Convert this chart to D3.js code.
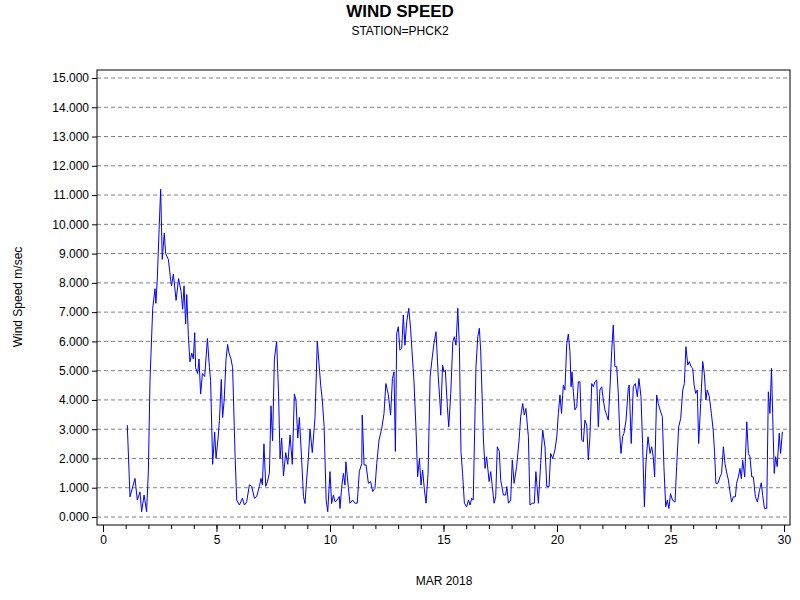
<!DOCTYPE html>
<html><head><meta charset="utf-8">
<script src="https://cdn.jsdelivr.net/npm/d3@7"></script>
<style>body{margin:0;background:#fff}text{font-family:Arial,"Liberation Sans",sans-serif}</style>
</head><body><svg id="c" width="800" height="600"></svg>
<script>
const days=[1.07,1.19,1.41,1.51,1.63,1.70,1.81,1.92,2.0,2.07,2.19,2.29,2.33,2.39,2.48,2.54,2.61,2.70,2.76,2.88,2.98,3.02,3.10,3.22,3.33,3.44,3.51,3.57,3.64,3.69,3.76,3.83,3.91,3.98,4.04,4.08,4.17,4.23,4.30,4.38,4.48,4.60,4.69,4.74,4.83,4.92,4.98,5.07,5.13,5.21,5.27,5.34,5.42,5.49,5.55,5.64,5.71,5.82,5.89,6.01,6.14,6.23,6.33,6.45,6.55,6.67,6.77,6.89,6.96,7.02,7.09,7.17,7.24,7.33,7.40,7.47,7.55,7.65,7.73,7.80,7.87,7.95,8.05,8.14,8.24,8.34,8.43,8.50,8.58,8.65,8.75,8.83,8.90,8.97,9.05,9.12,9.22,9.34,9.44,9.52,9.59,9.66,9.74,9.83,9.90,10.00,10.07,10.15,10.22,10.32,10.41,10.44,10.51,10.59,10.66,10.70,10.81,10.88,11.0,11.1,11.2,11.29,11.40,11.42,11.5,11.59,11.69,11.79,11.88,11.98,12.06,12.16,12.28,12.38,12.46,12.57,12.67,12.75,12.82,12.88,12.94,13.01,13.08,13.16,13.23,13.30,13.38,13.47,13.55,13.61,13.70,13.79,13.86,13.94,14.01,14.08,14.16,14.23,14.32,14.41,14.49,14.58,14.67,14.77,14.88,14.96,15.02,15.08,15.17,15.23,15.32,15.41,15.48,15.55,15.63,15.70,15.77,15.84,15.92,16.02,16.10,16.17,16.24,16.31,16.43,16.51,16.58,16.64,16.76,16.83,16.90,17.01,17.08,17.15,17.23,17.30,17.37,17.46,17.52,17.64,17.74,17.79,17.86,17.96,18.03,18.11,18.22,18.33,18.40,18.49,18.56,18.63,18.74,18.81,18.91,19.0,19.07,19.18,19.28,19.37,19.47,19.55,19.65,19.72,19.81,19.91,19.99,20.06,20.13,20.20,20.28,20.35,20.43,20.50,20.57,20.62,20.66,20.72,20.79,20.87,20.94,21.01,21.09,21.16,21.23,21.31,21.38,21.45,21.53,21.60,21.67,21.75,21.82,21.89,21.97,22.04,22.11,22.19,22.26,22.33,22.41,22.48,22.55,22.63,22.70,22.77,22.82,22.89,22.95,23.04,23.14,23.18,23.27,23.36,23.45,23.54,23.61,23.70,23.77,23.85,23.92,24.01,24.10,24.17,24.24,24.30,24.39,24.46,24.54,24.64,24.71,24.79,24.86,24.93,25.0,25.09,25.20,25.27,25.36,25.45,25.54,25.61,25.68,25.76,25.83,25.90,25.98,26.04,26.11,26.18,26.24,26.33,26.42,26.49,26.56,26.62,26.71,26.80,26.88,26.94,27.0,27.09,27.18,27.25,27.33,27.40,27.47,27.55,27.62,27.69,27.77,27.86,27.91,27.99,28.06,28.12,28.18,28.27,28.36,28.43,28.50,28.58,28.65,28.74,28.83,28.92,29.0,29.06,29.14,29.24,29.31,29.38,29.45,29.50,29.57,29.63,29.70,29.79,29.85,29.93];
const speeds=[3.14,0.69,1.32,0.58,0.86,0.18,0.75,0.18,1.6,4.67,7.13,7.8,7.3,8.1,10.0,11.2,8.8,9.7,9.0,8.8,8.1,7.9,8.3,7.4,8.15,7.7,7.1,7.9,6.6,7.6,6.2,5.3,5.6,5.4,6.3,5.1,4.9,5.4,4.2,4.9,4.8,6.1,5.1,4.67,1.8,2.9,2.0,2.7,3.3,4.7,3.4,4.0,5.4,5.9,5.6,5.4,5.1,2.05,0.58,0.41,0.64,0.41,0.52,1.1,1.05,0.64,0.7,1.05,1.32,1.1,2.5,1.05,1.2,1.5,3.8,2.6,5.4,6.0,4.3,2.0,2.7,1.4,2.2,1.8,2.8,1.8,4.2,4.0,2.7,3.4,1.98,0.7,0.46,1.26,2.05,3.0,2.2,3.4,6.0,5.2,4.5,4.0,3.1,0.58,0.18,1.55,0.46,0.75,0.52,0.58,0.7,0.29,0.98,1.49,1.09,1.89,1.0,0.47,0.58,0.47,0.47,1.55,1.83,3.48,1.78,1.78,1.15,1.21,0.87,0.98,1.83,2.63,3.03,3.54,4.56,4.18,3.48,4.73,4.96,2.24,6.28,6.5,5.7,5.76,6.9,5.87,6.67,7.13,6.45,5.7,4.62,2.97,1.38,2.0,1.09,1.6,0.92,0.47,1.49,4.79,5.36,5.93,6.33,4.79,3.48,5.19,4.96,5.02,3.77,3.08,4.22,5.99,6.16,5.87,7.13,5.82,2.24,1.49,0.47,0.35,0.58,0.41,0.64,0.58,5.13,6.16,6.45,5.65,2.63,1.66,2.06,1.21,1.55,1.04,0.47,0.69,2.4,2.24,1.26,0.75,0.75,1.04,0.47,0.58,1.95,1.15,1.72,2.63,3.43,3.88,3.48,3.71,2.74,0.41,0.47,0.47,1.55,0.47,1.83,2.97,2.4,1.04,1.04,2.17,2.0,2.29,2.74,3.54,4.17,3.54,4.51,4.34,5.93,6.25,5.65,4.45,4.96,4.28,3.66,3.77,4.62,4.62,2.63,2.57,3.31,3.14,1.95,2.74,4.56,4.45,4.62,4.68,3.08,4.34,4.45,4.0,3.66,3.48,3.31,4.34,5.7,6.56,5.14,5.14,4.23,2.74,2.17,2.74,2.86,3.31,4.39,4.51,2.51,4.45,4.56,4.11,4.73,4.11,2.51,0.35,1.88,2.74,2.17,2.4,2.06,1.37,4.17,3.88,3.66,3.43,1.72,0.35,0.57,0.29,0.8,0.57,0.51,1.72,3.08,3.37,4.34,4.56,5.82,5.19,5.31,5.14,5.08,4.51,4.22,4.34,2.51,3.88,5.31,4.91,4.0,4.34,4.11,3.54,2.97,2.23,1.15,1.15,1.37,1.49,2.4,1.83,1.54,1.26,0.86,0.51,0.69,0.69,1.15,1.37,1.66,1.31,1.94,1.37,3.25,2.17,2.06,1.37,1.37,0.69,0.51,0.91,1.17,0.74,0.29,0.29,4.28,3.54,5.08,3.54,1.49,2.06,1.72,2.86,2.17,2.91];
const yTicks=d3.range(0,16,1);
const xMajor=[0,5,10,15,20,25,30];
const xMinor=d3.range(0,31,1);

const svg=d3.select("#c");
const L=97,R=790,T=70,B=525;
const x=d3.scaleLinear().domain([0,30]).range([103,784]);
const y=d3.scaleLinear().domain([0,15]).range([517,78]);

svg.append("text").attr("x",400).attr("y",17).attr("text-anchor","middle").attr("font-size",17).attr("font-weight","bold").text("WIND SPEED");
svg.append("text").attr("x",400).attr("y",35).attr("text-anchor","middle").attr("font-size",12).text("STATION=PHCK2");

svg.append("g").selectAll("line").data(yTicks).join("line")
 .attr("x1",L).attr("x2",R).attr("y1",d=>y(d)).attr("y2",d=>y(d))
 .attr("stroke","#808080").attr("stroke-dasharray","4,3");

svg.append("rect").attr("x",L).attr("y",T).attr("width",R-L).attr("height",B-T).attr("fill","none").attr("stroke","#000");

const ya=d3.axisLeft(y).tickValues(yTicks).tickFormat(d3.format(".3f")).tickSize(5).tickSizeOuter(0);
svg.append("g").attr("transform",`translate(${L},0)`).call(ya).call(g=>g.select(".domain").remove())
 .call(g=>g.selectAll("text").attr("font-size",12).attr("font-family","Arial,'Liberation Sans',sans-serif").attr("fill","#000"));

const xm=d3.axisBottom(x).tickValues(xMinor).tickFormat("").tickSize(4).tickSizeOuter(0);
svg.append("g").attr("transform",`translate(0,${B})`).call(xm).call(g=>g.select(".domain").remove());
const xa=d3.axisBottom(x).tickValues(xMajor).tickFormat(d3.format("d")).tickSize(7).tickSizeOuter(0);
svg.append("g").attr("transform",`translate(0,${B})`).call(xa).call(g=>g.select(".domain").remove())
 .call(g=>g.selectAll("text").attr("font-size",12).attr("font-family","Arial,'Liberation Sans',sans-serif").attr("fill","#000"));

svg.append("text").attr("x",444).attr("y",585).attr("text-anchor","middle").attr("font-size",12).text("MAR 2018");
svg.append("text").attr("transform","translate(22,297) rotate(-90)").attr("text-anchor","middle").attr("font-size",12).text("Wind Speed m/sec");

const line=d3.line().x((d,i)=>x(days[i])).y(d=>y(d));
svg.append("path").datum(speeds).attr("d",line).attr("fill","none").attr("stroke","#0000ff").attr("stroke-width",1);
</script></body></html>
